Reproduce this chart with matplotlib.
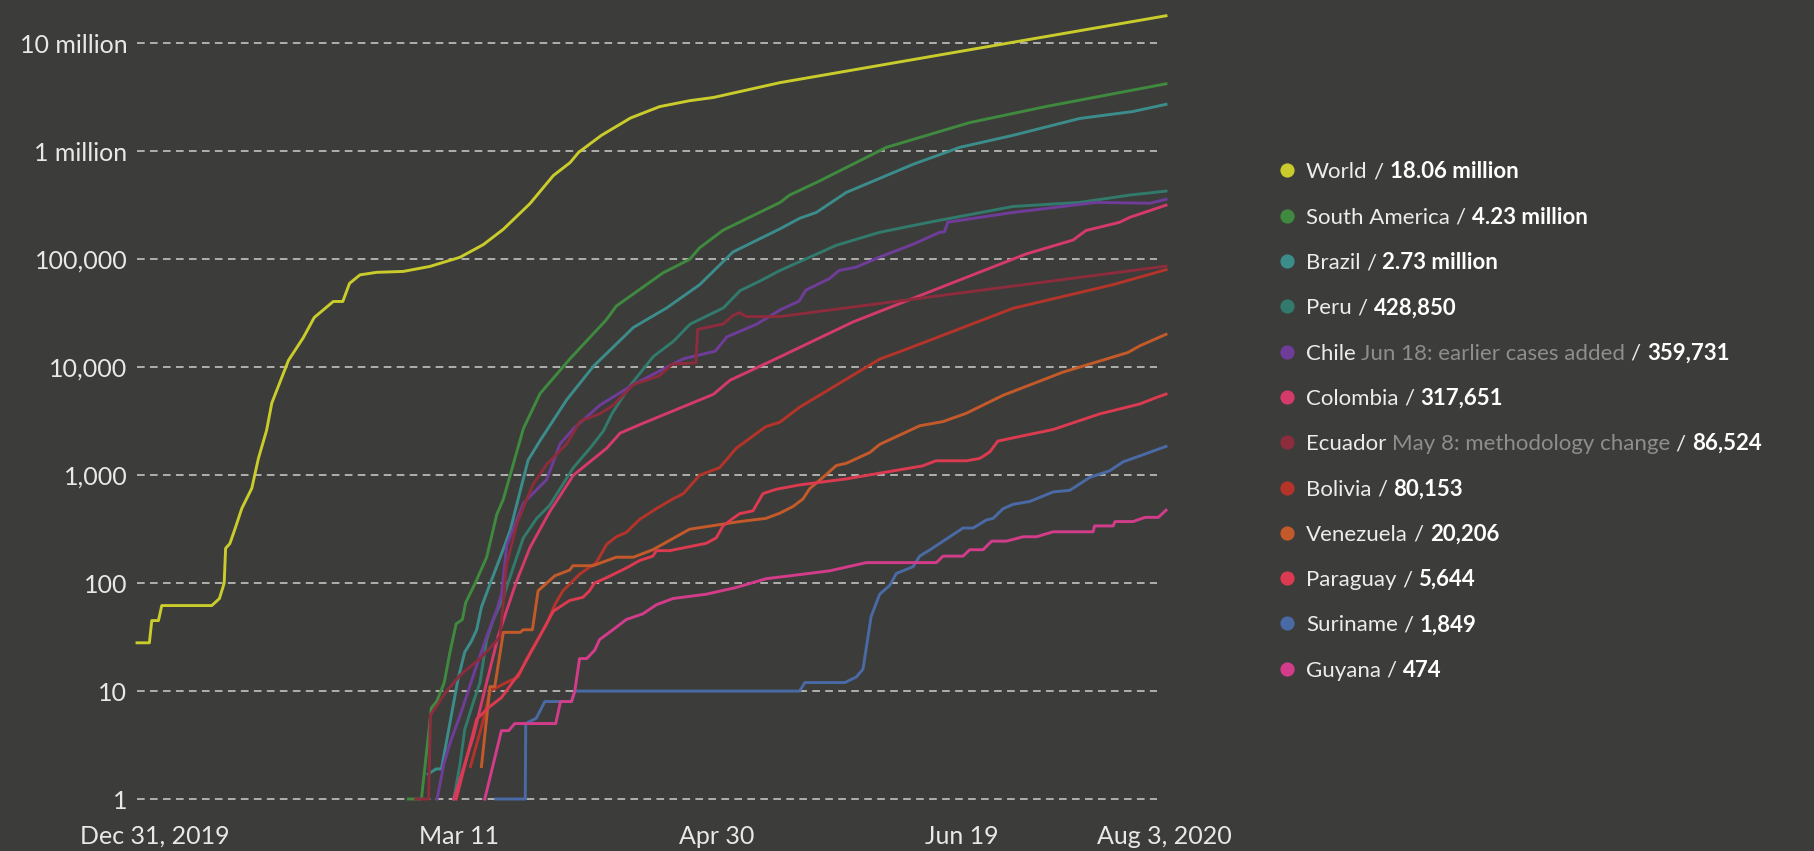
"""Cumulative confirmed COVID-19 cases, World vs South America (log scale)."""
import numpy as np
import pandas as pd
import matplotlib
matplotlib.use('Agg')
import matplotlib.pyplot as plt
from matplotlib.ticker import NullLocator

plt.rcParams.update({
    'font.family': ['Lato', 'DejaVu Sans'],
    'font.size': 16,
    'figure.dpi': 100,
})

BG = '#3c3c3a'
TEXT = '#ececec'
NOTE_GRAY = '#8e8e8c'

START = pd.Timestamp('2019-12-31')

# days since Dec 31, 2019 / cumulative cases
world_days = [0, 2.6, 3.1, 4.5, 5.2, 15.7, 17.3, 18.3, 18.6, 19.5, 20.6, 22, 24.1, 25.5,
              27.2, 28.3, 31.8, 34.9, 37.2, 41.2, 43.2, 44.6, 46.8, 50.3, 55.9, 61.5,
              67.8, 72.7, 76.9, 82.5, 87.4, 90.9, 92.7, 97.5, 103.6, 109.7, 116, 121,
              135, 216]
world_cases = [28, 28, 45, 45, 62, 62, 72, 100, 210, 233, 321, 493, 757, 1440,
               2600, 4670, 11600, 18800, 28900, 40700, 40700, 59800, 71800, 75800, 77300,
               86000, 104500, 137000, 190000, 329000, 598000, 787000, 980000, 1410000,
               2040000, 2600000, 2950000, 3160000, 4340000, 18060000]

samerica_days = [57, 59.7, 61.8, 62.9, 64.5, 65.7, 67, 68.3, 69, 71, 73.4, 75.5, 76.9,
                 81.1, 84.6, 90.9, 98.5, 100.6, 110.4, 116, 118.1, 123, 135, 137,
                 141.9, 143, 157.3, 174.8, 190.9, 216]
samerica_cases = [1, 1, 7, 8, 12, 23, 42, 46, 66, 100, 174, 430, 600,
                  2700, 5700, 12000, 27500, 36900, 74800, 100000, 128000, 186000, 337000,
                  394000, 498000, 525000, 1090000, 1850000, 2610000, 4230000]

brazil_days = [61.1, 62.8, 63.9, 65.7, 67.4, 68.8, 70.2, 71.3, 72.3, 74.1, 76.5, 78.3,
               82.1, 84.6, 90.2, 95.8, 104.2, 111.2, 118.1, 125.1, 134.9, 139.1, 142.6,
               148.9, 162.9, 172.7, 183.9, 197.9, 209, 216]
brazil_cases = [1.7, 1.9, 1.9, 5.1, 13, 23, 29, 37, 60, 98, 186, 305,
                1380, 2090, 5000, 10200, 23400, 35500, 58200, 117000, 191000, 240000,
                272000, 417000, 759000, 1090000, 1410000, 2020000, 2340000, 2730000]

peru_days = [66.5, 67.8, 68.8, 70.6, 72, 73.4, 74.8, 76.9, 79, 81.1, 83.9, 86.6, 91.6,
             95.1, 97.9, 99.7, 103.5, 108.4, 112.6, 116.1, 123.1, 126.6, 130.8, 135,
             141.9, 146.8, 155.9, 166.4, 183.9, 197.9, 208.4, 216]
peru_cases = [1, 2.1, 4.4, 7.9, 12, 30, 46, 74, 141, 263, 398, 525, 1175,
              1780, 2570, 3720, 6760, 12600, 17400, 25100, 35500, 51300, 63100, 79000,
              108000, 135000, 178000, 221000, 309000, 337000, 394000, 428850]

chile_days = [63, 64.4, 65.7, 67.8, 70.6, 73.4, 75.5, 76.5, 76.9, 77.6, 81.1, 86, 88.8,
              91.6, 97.2, 104.2, 114.7, 121.4, 123.8, 130.1, 135, 139, 140.4, 145.3,
              147.4, 150.9, 155.9, 162.9, 168.5, 169.5, 170.2, 183.9, 201.4, 212.6, 216]
chile_cases = [1, 2.1, 3.3, 5.9, 14, 32, 56, 79, 112, 224, 550, 912, 1950,
               2690, 4470, 6920, 12000, 14100, 19100, 25100, 34000, 41100, 51900, 66100,
               78900, 84500, 105000, 138000, 178000, 180000, 221000, 272000, 337000,
               331000, 359731]

colombia_days = [66.5, 70.6, 71.3, 74.1, 75.8, 77.6, 79.7, 82.5, 86.6, 91.6, 98.6, 101.4,
                 105.6, 121, 124.5, 135, 139.8, 150.3, 166.4, 186.6, 196.5, 199.2, 206.2,
                 208.4, 211.8, 216]
colombia_cases = [1, 3.8, 5.1, 16, 32, 56, 105, 214, 457, 1000, 1780, 2450,
                  2950, 5620, 7590, 12500, 15800, 26300, 50100, 112000, 151000, 185000,
                  220000, 245000, 275000, 317651]

ecuador_days = [58.5, 61.2, 61.6, 65, 67.8, 72, 74.1, 76.2, 77, 77.6, 79.7, 81.8, 83.2,
                86, 90.2, 93, 97.2, 100, 104.2, 109.6, 112.4, 117.3, 117.7, 120.2, 123,
                125.1, 126.5, 127.9, 134.9, 216]
ecuador_cases = [1, 1, 6, 10, 14, 20, 25, 32, 74, 150, 350, 600, 830,
                 1260, 1950, 3160, 3720, 4470, 6920, 8320, 10700, 11000, 22400, 23700,
                 25100, 30200, 32000, 29500, 29500, 86524]

bolivia_days = [70, 72.5, 74.1, 77.5, 80, 81.8, 85.9, 87.7, 89.4, 93, 96.4, 98.6, 100.6,
                102.7, 105.5, 109, 112.5, 114.7, 118.1, 122.3, 125.8, 132, 134.9, 139.1,
                155.9, 161.5, 183.9, 204.9, 216]
bolivia_cases = [2, 5, 10, 12, 13.5, 20, 41, 63, 85, 122, 155, 229, 269,
                 295, 389, 490, 603, 676, 1000, 1175, 1780, 2820, 3090, 4270,
                 11900, 14700, 35200, 58300, 80153]

venezuela_days = [72.3, 74.1, 75.1, 76.9, 80.4, 81.1, 83, 84.2, 87.7, 90.8, 91.5, 95.7,
                  100.6, 104.2, 108.3, 116, 126.5, 132, 134.9, 137.7, 139.8, 141.2, 144,
                  146.8, 148.9, 151.7, 153.8, 155.9, 164.3, 169.2, 174.1, 181.8, 194.4,
                  208, 210.5, 216]
venezuela_cases = [2, 11, 11, 35, 35, 37, 37, 85, 117, 132, 145, 145,
                   174, 174, 204, 316, 372, 398, 444, 513, 603, 750, 955,
                   1230, 1290, 1470, 1620, 1930, 2870, 3140, 3750, 5500, 9020,
                   13700, 15800, 20206]

paraguay_days = [67, 71.3, 74.1, 76.5, 80.4, 84.5, 87.4, 90.8, 93.6, 95, 96, 98.5, 102.7,
                 105.5, 108.3, 109, 111.8, 119.5, 121.6, 123, 125.1, 126.5, 129.3, 131.4,
                 134.2, 139.1, 148.9, 164.9, 167.7, 174.1, 176.9, 179, 180.7, 183.9,
                 192.3, 202.1, 210.5, 214, 216]
paraguay_cases = [1, 5.5, 7.2, 8.7, 15, 32, 55, 69, 74, 85, 100, 112, 138,
                  162, 178, 200, 200, 234, 263, 339, 398, 440, 468, 676,
                  741, 813, 925, 1220, 1360, 1360, 1430, 1640, 2070, 2220,
                  2650, 3700, 4570, 5250, 5644]

suriname_days = [75.3, 81.5, 81.6, 83.8, 85.6, 91.2, 91.9, 139.1, 140.2, 148.6, 151,
                 152.4, 154.1, 155.9, 158, 159.4, 162.9, 164.3, 166.4, 173.4, 175.5,
                 178.3, 179.7, 181.8, 183.9, 187.4, 192.3, 195.8, 200, 204.2, 207,
                 210.5, 216]
suriname_cases = [1, 1, 5, 5.6, 8, 8, 10, 10, 12, 12, 13.5,
                  16, 49, 79, 95, 123, 142, 178, 203, 324, 324,
                  385, 398, 490, 537, 571, 700, 724, 955, 1100, 1330,
                  1510, 1849]

guyana_days = [73, 76.5, 78, 79.3, 87.9, 88.9, 91.2, 91.9, 92.9, 94.4, 96.1, 97.1, 99.9,
               102.7, 106.2, 109, 112.5, 119.5, 125.7, 132.1, 139.1, 145.4, 153.1, 167.8,
               169.2, 173.4, 174.8, 177.6, 179.4, 182.5, 186, 188.8, 192.3, 200.7, 201,
               204.9, 205.3, 209.1, 211.6, 214.4, 216]
guyana_cases = [1, 4.3, 4.3, 5, 5, 8, 8, 10, 20, 20, 24, 30, 37,
                46, 52, 63, 72, 79, 91, 110, 120, 130, 155, 155,
                178, 178, 204, 204, 245, 245, 269, 269, 299, 299, 339,
                339, 372, 372, 407, 407, 474]

SERIES_NAMES = ['World', 'South America', 'Brazil', 'Peru', 'Chile', 'Colombia', 'Ecuador',
                'Bolivia', 'Venezuela', 'Paraguay', 'Suriname', 'Guyana']
SERIES_NOTES = ['', '', '', '', 'Jun 18: earlier cases added', '', 'May 8: methodology change',
                '', '', '', '', '']
SERIES_TOTALS = ['18.06 million', '4.23 million', '2.73 million', '428,850', '359,731',
                 '317,651', '86,524', '80,153', '20,206', '5,644', '1,849', '474']
COLORS = ['#c9cc2a', '#3f8a3f', '#3b8c8a', '#317a6c', '#6f3d99', '#d43a6a', '#8c2c3c',
          '#b5342a', '#c45a2a', '#dc3a50', '#4a6aa5', '#d23c8a']

Y_TICKS = [1, 10, 100, 1e3, 1e4, 1e5, 1e6, 1e7]
Y_TICK_LABELS = ['1', '10', '100', '1,000', '10,000', '100,000', '1 million', '10 million']
X_TICK_DATES = ['2019-12-31', '2020-03-11', '2020-04-30', '2020-06-19', '2020-08-03']
X_TICK_LABELS = ['Dec 31, 2019', 'Mar 11', 'Apr 30', 'Jun 19', 'Aug 3, 2020']
# the source nudges its date labels a little off the exact day (points)
X_LABEL_NUDGE = [12.5, -11.5, 2, 7, -1]

SERIES = [
    (world_days, world_cases), (samerica_days, samerica_cases),
    (brazil_days, brazil_cases), (peru_days, peru_cases),
    (chile_days, chile_cases), (colombia_days, colombia_cases),
    (ecuador_days, ecuador_cases), (bolivia_days, bolivia_cases),
    (venezuela_days, venezuela_cases), (paraguay_days, paraguay_cases),
    (suriname_days, suriname_cases), (guyana_days, guyana_cases),
]

W, H = 1815, 851


def draw_legend_row(lax, y, color, name, note, total):
    lax.scatter([1287], [y], s=105, color=color, linewidths=0)
    t = lax.text(1306, y + 8, name, fontsize=16, color=TEXT, ha='left', va='baseline')
    pieces = []
    if note:
        pieces.append((note, NOTE_GRAY, 'normal', 3.8))
    pieces.append(('/', TEXT, 'normal', 4.0))
    pieces.append((total, '#ffffff', 'bold', 4.6))
    for s, c, w, gap in pieces:
        t = lax.annotate(s, xy=(1, 0), xycoords=t, xytext=(gap, 0),
                         textcoords='offset points', fontsize=16, color=c,
                         fontweight=w, ha='left', va='bottom')


fig = plt.figure(figsize=(W / 100, H / 100), facecolor=BG)
ax = fig.add_axes([137 / W, 1 - 820.6 / H, (1166 - 137) / W, (820.6 - 11.1) / H])
ax.set_facecolor(BG)
ax.set_yscale('log')
ax.set_ylim(10 ** -0.2, 10 ** 7.3)
ax.set_xlim(START, START + pd.Timedelta(days=216))

for t in Y_TICKS:
    ax.axhline(t, xmin=0, xmax=0.991, color='#cfcfcd', lw=1.1, ls=(0, (5, 3.5)), zorder=1)

for (days, cases), color in zip(SERIES, COLORS):
    x = START + pd.to_timedelta(np.asarray(days, dtype=float), unit='D')
    ax.plot(x, cases, color=color, lw=2.1, solid_joinstyle='round', zorder=3, clip_on=False)

ax.set_yticks(Y_TICKS)
ax.set_yticklabels(Y_TICK_LABELS)
ax.yaxis.set_minor_locator(NullLocator())
ax.tick_params(axis='y', length=0, pad=7, labelsize=18, labelcolor='#e8e8e6')
ax.set_xticks([])
ax.xaxis.set_minor_locator(NullLocator())
for d, lab, dx in zip(pd.to_datetime(X_TICK_DATES), X_TICK_LABELS, X_LABEL_NUDGE):
    ax.annotate(lab, xy=(d, 0), xycoords=('data', 'axes fraction'), xytext=(dx, -3),
                textcoords='offset points', ha='center', va='top', fontsize=18,
                color='#e8e8e6', annotation_clip=False)
for sp in ax.spines.values():
    sp.set_visible(False)

# legend drawn in pixel coordinates on an overlay
lax = fig.add_axes([0, 0, 1, 1])
lax.set_xlim(0, W)
lax.set_ylim(H, 0)
lax.axis('off')
lax.patch.set_alpha(0)
for i, (name, note, total, color) in enumerate(zip(SERIES_NAMES, SERIES_NOTES,
                                                   SERIES_TOTALS, COLORS)):
    draw_legend_row(lax, 170.4 + i * 45.3, color, name, note, total)

fig.savefig('out.png', facecolor=BG)
plt.close(fig)
